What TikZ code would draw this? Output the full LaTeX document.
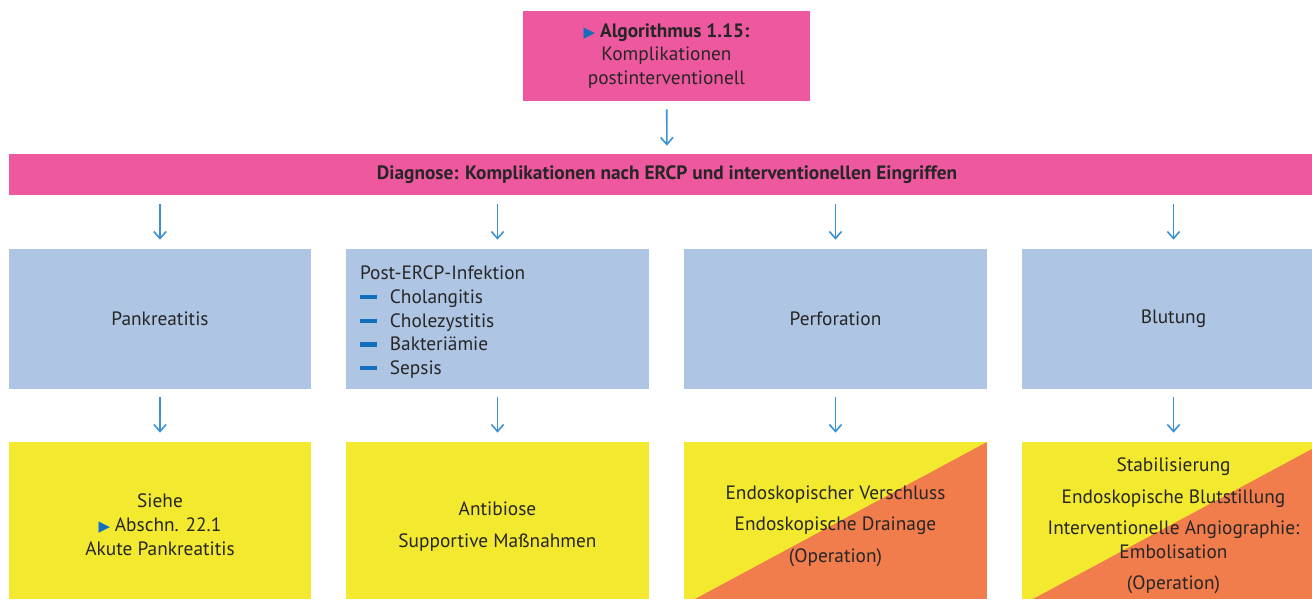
\documentclass[tikz,border=0pt]{standalone}
\usepackage{fontspec}
\setmainfont{PT Sans}
\newfontfamily\symbolfont{DejaVu Sans}
\usetikzlibrary{arrows.meta}
\definecolor{algoPink}{RGB}{238,88,158}
\definecolor{algoBlue}{RGB}{175,197,228}
\definecolor{algoYellow}{RGB}{243,234,47}
\definecolor{algoOrange}{RGB}{241,124,76}
\definecolor{algoArrow}{RGB}{58,146,212}
\definecolor{algoMark}{RGB}{20,110,190}
\newcommand{\MARK}{{\symbolfont\fontsize{8.5}{10}\selectfont\textcolor{algoMark}{▶}}\hspace{0.25em}}
\newcommand{\DASH}{\textcolor{algoMark}{\rule[0.22em]{9.6pt}{2.4pt}}\hspace{7.4pt}}
\newcommand{\LOWER}[1]{\rule{0pt}{#1}}
\tikzset{
    TEXT/.style={font={\fontsize{11}{13.5}\selectfont}, text=black!85, inner sep=0mm},
    PINK_BOX/.style={TEXT, fill=algoPink, shape=rectangle, align=center},
    BLUE_BOX/.style={TEXT, fill=algoBlue, shape=rectangle, align=center,
        minimum width=6.06cm, minimum height=2.8cm},
    YELLOW_BOX/.style={TEXT, fill=algoYellow, shape=rectangle, align=center,
        minimum width=6.06cm, minimum height=3.14cm},
    HALF_BOX/.style={YELLOW_BOX, path picture={
        \fill[algoOrange] ([xshift=0.22cm]path picture bounding box.south west)
            -- (path picture bounding box.north east)
            -- (path picture bounding box.south east) -- cycle;}},
    EDGE/.style={draw=algoArrow, line width=0.9pt,
        -{Straight Barb[length=4pt, width=7pt]}}
}
\pgfdeclarelayer{edgelayer}
\pgfdeclarelayer{nodelayer}
\pgfsetlayers{edgelayer,nodelayer,main}
\begin{document}
\begin{tikzpicture}[x=0.02cm, y=-0.02cm]
    \useasboundingbox (0, 0) rectangle (1312, 599);
    \begin{pgfonlayer}{nodelayer}
        \node [PINK_BOX, minimum width=5.74cm, minimum height=1.8cm] (algo) at (666.5, 56)
            {\MARK\textbf{Algorithmus 1.15:}\\Komplikationen\\postinterventionell};
        \node [PINK_BOX, minimum width=26.32cm, minimum height=0.82cm] (diag) at (667, 174.5)
            {\textbf{Diagnose: Komplikationen nach ERCP und interventionellen Eingriffen}};
        \node [BLUE_BOX] (pank) at (160, 319) {Pankreatitis};
        \node [BLUE_BOX, align=left, text width=5.5cm] (infekt) at (497.5, 319)
            {\LOWER{11.5pt}Post-ERCP-Infektion\\
             \DASH Cholangitis\\
             \DASH Cholezystitis\\
             \DASH Bakteriämie\\
             \DASH Sepsis};
        \node [BLUE_BOX] (perf) at (835.5, 319) {Perforation};
        \node [BLUE_BOX] (blut) at (1173.5, 319) {Blutung};
        \node [YELLOW_BOX] (pankT) at (160, 520.5)
            {\LOWER{12.5pt}Siehe\\\MARK Abschn. 22.1\\Akute Pankreatitis};
        \node [YELLOW_BOX] (infektT) at (497.5, 520.5)
            {\LOWER{14.5pt}Antibiose\\[4.5pt]Supportive Maßnahmen};
        \node [HALF_BOX] (perfT) at (835.5, 520.5)
            {\LOWER{14pt}Endoskopischer Verschluss\\[4.5pt]Endoskopische Drainage\\[4.5pt](Operation)};
        \node [HALF_BOX] (blutT) at (1173.5, 520.5)
            {\LOWER{14pt}Stabilisierung\\[4.5pt]Endoskopische Blutstillung\\[4.5pt]Interventionelle Angiographie:\\Embolisation\\[4.5pt](Operation)};
    \end{pgfonlayer}
    \begin{pgfonlayer}{edgelayer}
        \draw[EDGE, shorten <=0.16cm, shorten >=0.16cm] (algo) to (diag);
        \foreach \col in {pank, infekt, perf, blut} {
            \draw[EDGE, shorten <=0.18cm, shorten >=0.18cm] (diag.south -| \col.north) to (\col.north);
            \draw[EDGE, shorten <=0.16cm, shorten >=0.18cm] (\col.south) to (\col T.north);
        }
    \end{pgfonlayer}
\end{tikzpicture}
\end{document}
